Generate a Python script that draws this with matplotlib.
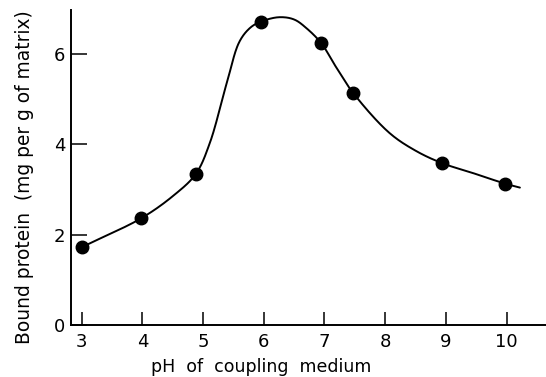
import numpy as np
import matplotlib
matplotlib.use("Agg")
import matplotlib.pyplot as plt

# Measured data points
ph = [3.0, 3.98, 4.88, 5.95, 6.95, 7.47, 8.94, 9.97]
bound = [1.72, 2.36, 3.34, 6.71, 6.23, 5.14, 3.58, 3.13]

# Hand-drawn smooth curve
curve_x = [3.11, 3.98, 4.51, 4.88, 5.11, 5.39, 5.60, 5.78, 5.95,
           6.25, 6.50, 6.71, 6.95, 7.19, 7.47, 8.07, 8.51, 8.94, 9.45, 9.97, 10.22]
curve_y = [1.79, 2.36, 2.86, 3.34, 4.02, 5.35, 6.27, 6.58, 6.71,
           6.81, 6.76, 6.56, 6.23, 5.71, 5.14, 4.25, 3.85, 3.58, 3.36, 3.13, 3.04]

xticks = [3, 4, 5, 6, 7, 8, 9, 10]
yticks = [0, 2, 4, 6]


def catmull_rom(xs, ys, sx=60.7, sy=45.2, n=24, alpha=0.5):
    P = np.column_stack([np.asarray(xs) * sx, np.asarray(ys) * sy])
    P = np.vstack([2 * P[0] - P[1], P, 2 * P[-1] - P[-2]])
    out = []
    for i in range(1, len(P) - 2):
        p0, p1, p2, p3 = P[i - 1], P[i], P[i + 1], P[i + 2]
        t0 = 0.0
        t1 = t0 + np.linalg.norm(p1 - p0) ** alpha
        t2 = t1 + np.linalg.norm(p2 - p1) ** alpha
        t3 = t2 + np.linalg.norm(p3 - p2) ** alpha
        t = np.linspace(t1, t2, n, endpoint=False)[:, None]
        a1 = (t1 - t) / (t1 - t0) * p0 + (t - t0) / (t1 - t0) * p1
        a2 = (t2 - t) / (t2 - t1) * p1 + (t - t1) / (t2 - t1) * p2
        a3 = (t3 - t) / (t3 - t2) * p2 + (t - t2) / (t3 - t2) * p3
        b1 = (t2 - t) / (t2 - t0) * a1 + (t - t0) / (t2 - t0) * a2
        b2 = (t3 - t) / (t3 - t1) * a2 + (t - t1) / (t3 - t1) * a3
        c = (t2 - t) / (t2 - t1) * b1 + (t - t1) / (t2 - t1) * b2
        out.append(c)
    out.append(P[-2][None, :])
    out = np.vstack(out)
    return out[:, 0] / sx, out[:, 1] / sy


fig = plt.figure(figsize=(5.46, 3.77), dpi=100)
ax = fig.add_axes([0.1295, 0.138, 0.8705, 0.8355])

cx, cy = catmull_rom(curve_x, curve_y)
ax.plot(cx, cy, color="black", lw=1.4, solid_capstyle="round", solid_joinstyle="round")
ax.plot(ph, bound, "o", color="black", ms=9)

ax.set_xlim(2.82, 10.65)
ax.set_ylim(0, 6.97)
ax.set_xticks(xticks)
ax.set_yticks(yticks)
ax.set_xticklabels([str(v) for v in xticks])
ax.set_yticklabels([str(v) for v in yticks])

for s in ["top", "right"]:
    ax.spines[s].set_visible(False)
for s in ["left", "bottom"]:
    ax.spines[s].set_linewidth(1.4)

ax.tick_params(axis="x", direction="in", length=9.5, width=1.1, pad=6, labelsize=13)
ax.tick_params(axis="y", direction="in", length=11.5, width=1.1, pad=4, labelsize=13)

ax.set_xlabel("pH  of  coupling  medium", fontsize=12.5)
ax.xaxis.set_label_coords(0.40, -0.105)
ax.set_ylabel("Bound protein  (mg per g of matrix)", fontsize=13.4)
ax.yaxis.set_label_coords(-0.077, 0.468)

fig.savefig("out.png", dpi=100)
